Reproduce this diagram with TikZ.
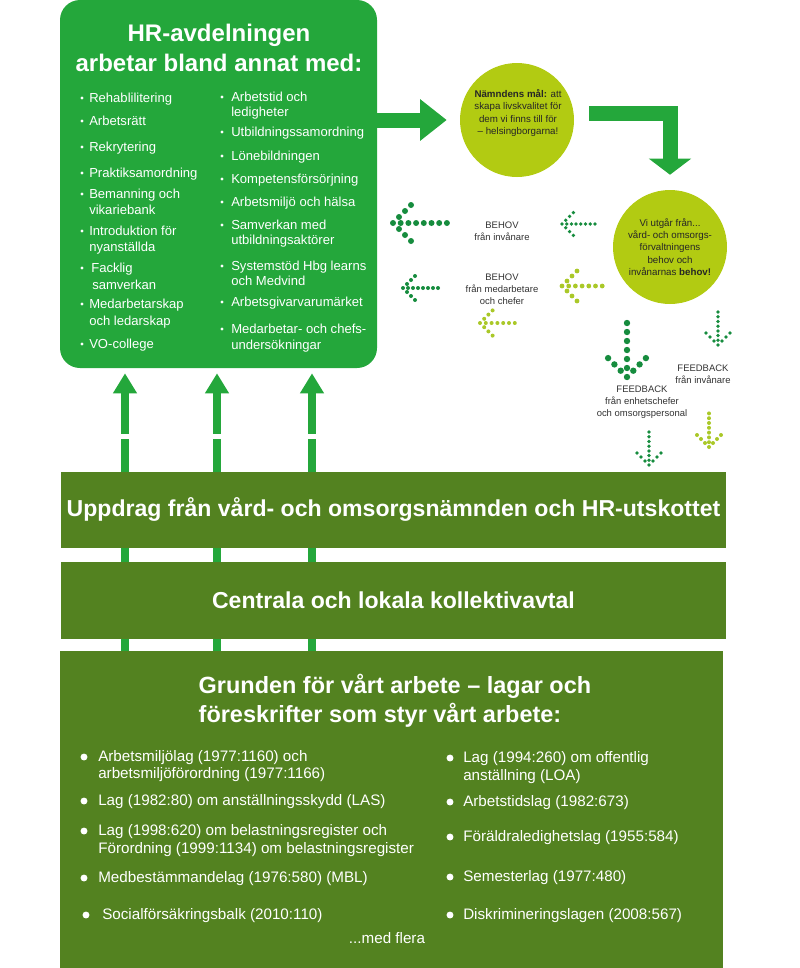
\documentclass[tikz,border=0pt]{standalone}
\usepackage{fontspec}
\setmainfont{Liberation Sans}
\usetikzlibrary{arrows.meta,positioning,calc}
\definecolor{hrgreen}{RGB}{36,167,59}
\definecolor{bandgreen}{RGB}{83,130,32}
\definecolor{lime}{RGB}{178,203,18}
\definecolor{dotdark}{RGB}{22,140,62}
\definecolor{dotlight}{RGB}{170,200,40}

\tikzset{
  pics/dotarrow/.style n args={4}{code={
    \foreach \k in {1,...,#1} \fill ({(\k-1)*#2},0) circle (#4);
    \foreach \j in {1,2,3} {
      \fill ({\j*#3},{\j*#3}) circle (#4);
      \fill ({\j*#3},{-\j*#3}) circle (#4);
    }
  }}
}

\begin{document}
\begin{tikzpicture}[
  x=0.75pt, y=-0.75pt,
  hrbox/.style={rectangle,rounded corners=15pt,fill=hrgreen,inner sep=0pt},
  band/.style={rectangle,fill=bandgreen,inner sep=0pt,text=white,
    font=\bfseries\fontsize{17.3pt}{20pt}\selectfont},
  goal/.style={circle,fill=lime,inner sep=0pt,minimum size=85.5pt,align=center,
    text=black!85,font=\fontsize{7.3pt}{9.2pt}\selectfont},
  hrhead/.style={align=center,text=white,font=\bfseries\fontsize{18pt}{22.5pt}\selectfont},
  hritem/.style={anchor=west,inner sep=0pt,text=white,text height=1.5ex,text depth=.25ex,
    font=\fontsize{9.8pt}{11pt}\selectfont},
  lawitem/.style={hritem,font=\fontsize{11.4pt}{13pt}\selectfont},
  note/.style={align=center,text=black!80,font=\fontsize{7.1pt}{9pt}\selectfont},
  bigarrow/.style={hrgreen,line width=11.25pt,-{Triangle[length=20pt,width=30pt]}},
  uparrow/.style={hrgreen,line width=6pt,-{Triangle[length=15pt,width=17pt]},shorten >=3.75pt}
]
\useasboundingbox (0,0) rectangle (800,968);

% HR box and goal circles
\node[hrbox,minimum width=237.75pt,minimum height=276pt] (hr) at (218.5,184) {};
\node[goal] (c1) at (517,120) {};
\node[goal] (c2) at (670,247) {Vi utgår från...\\vård- och omsorgs-\\förvaltningens\\behov och\\invånarnas \textbf{behov!}};
\node[goal,fill=none] (c1t) at (518,113) {\textbf{Nämndens mål:} att\\skapa livskvalitet för\\dem vi finns till för\\– helsingborgarna!};

\draw[bigarrow] (hr.east |- c1.west) -- ([xshift=-9.75pt]c1.west);
\draw[bigarrow,-{Triangle[length=12pt,width=31pt]}] ([xshift=11.25pt,yshift=5pt]c1.east) -| ([yshift=11.25pt]c2.north);

% law box and the arrows up into the HR box
\node[rectangle,fill=bandgreen,inner sep=0pt,minimum width=497.25pt,minimum height=237.75pt] (law) at (391.5,809.5) {};
\foreach \x in {125,217,312}
  \draw[uparrow] (\x,0 |- law.north) -- (\x,0 |- hr.south);
\fill[white] (100,434) rectangle (340,439);

\node[band,minimum width=498.75pt,minimum height=57pt] (upd) at (393.5,509.5) {Uppdrag från vård- och omsorgsnämnden och HR-utskottet};
\node[band,minimum width=498.75pt,minimum height=57.75pt] (koll) at (393.5,600.5) {Centrala och lokala kollektivavtal};

% HR list
\node[hrhead] (hrtitle) at (219,48) {HR-avdelningen\\arbetar bland annat med:};
\foreach \y/\t in {98/Rehablilitering,121/Arbetsrätt,147/Rekrytering,173/Praktiksamordning,
    194/Bemanning och,210/vikariebank,231/Introduktion för,247/nyanställda,
    304/Medarbetarskap,321/och ledarskap,344/VO-college}
  \node[hritem] (hl\y) at (89,\y) {\t};
\node[hritem] (hl268) at (91,268) {Facklig};
\node[hritem] (hl285) at (92,285) {samverkan};
\foreach \y in {98,121,147,173,194,231,268,304,344}
  \fill[white] (82,\y) circle (1.3pt);

\foreach \y/\t in {97/Arbetstid och,112/ledigheter,132/Utbildningssamordning,156/Lönebildningen,
    179/Kompetensförsörjning,202/Arbetsmiljö och hälsa,225/Samverkan med,240/utbildningsaktörer,
    266/Systemstöd Hbg learns,281/och Medvind,302/Arbetsgivarvarumärket,
    329/Medarbetar- och chefs-,345/undersökningar}
  \node[hritem] (hr\y) at (231,\y) {\t};
\foreach \y in {97,132,156,179,202,225,266,302,329}
  \fill[white] (222,\y) circle (1.3pt);

% needs and feedback
\node[note] (beh1) at (502,231) {BEHOV\\från invånare};
\node[note] (beh2) at (502,289) {BEHOV\\från medarbetare\\och chefer};
\node[note] (fb1) at (703,374) {FEEDBACK\\från invånare};
\node[note] (fb2) at (642,402) {FEEDBACK\\från enhetschefer\\och omsorgspersonal};

\pic[color=dotdark] at (393,223) {dotarrow={8}{7.7}{6}{2.25pt}};
\pic[color=dotdark] at (562,224) {dotarrow={8}{4.7}{3.8}{1.4pt}};
\pic[color=dotdark] at (403,288) {dotarrow={8}{5}{4}{1.5pt}};
\pic[color=dotlight] at (562,286) {dotarrow={7}{6.7}{5}{1.8pt}};
\pic[color=dotlight] at (480,323) {dotarrow={7}{5.8}{4.2}{1.5pt}};
\pic[color=dotdark,rotate=90] at (627,377) {dotarrow={7}{9}{6.3}{2.4pt}};
\pic[color=dotdark,rotate=90] at (718,345) {dotarrow={8}{4.7}{4}{1.4pt}};
\pic[color=dotlight,rotate=90] at (709,447) {dotarrow={8}{4.8}{4}{1.5pt}};
\pic[color=dotdark,rotate=90] at (649,465) {dotarrow={8}{4.7}{4}{1.4pt}};

% laws
\node[hrhead,align=left,anchor=west,font=\bfseries\fontsize{17.6pt}{21.5pt}\selectfont] (lawtitle) at (194,701) {Grunden för vårt arbete – lagar och\\föreskrifter som styr vårt arbete:};
\foreach \y/\t in {757/Arbetsmiljölag (1977:1160) och,774/arbetsmiljöförordning (1977:1166),
    801/Lag (1982:80) om anställningsskydd (LAS),831/Lag (1998:620) om belastningsregister och,
    849/Förordning (1999:1134) om belastningsregister,878/Medbestämmandelag (1976:580) (MBL)}
  \node[lawitem] (ll\y) at (98,\y) {\t};
\node[lawitem] (ll915) at (102,915) {Socialförsäkringsbalk (2010:110)};
\foreach \y in {757,801,831,878}
  \fill[white] (84,\y) circle (2.6pt);
\fill[white] (86,915) circle (2.6pt);

\foreach \y/\t in {758/Lag (1994:260) om offentlig,776/anställning (LOA),802/Arbetstidslag (1982:673),
    837/Föräldraledighetslag (1955:584),877/Semesterlag (1977:480),915/Diskrimineringslagen (2008:567)}
  \node[lawitem] (lr\y) at (463,\y) {\t};
\foreach \y in {758,802,837,877,915}
  \fill[white] (450,\y) circle (2.6pt);
\node[lawitem,anchor=center] (more) at (387,939) {...med flera};
\end{tikzpicture}
\end{document}
